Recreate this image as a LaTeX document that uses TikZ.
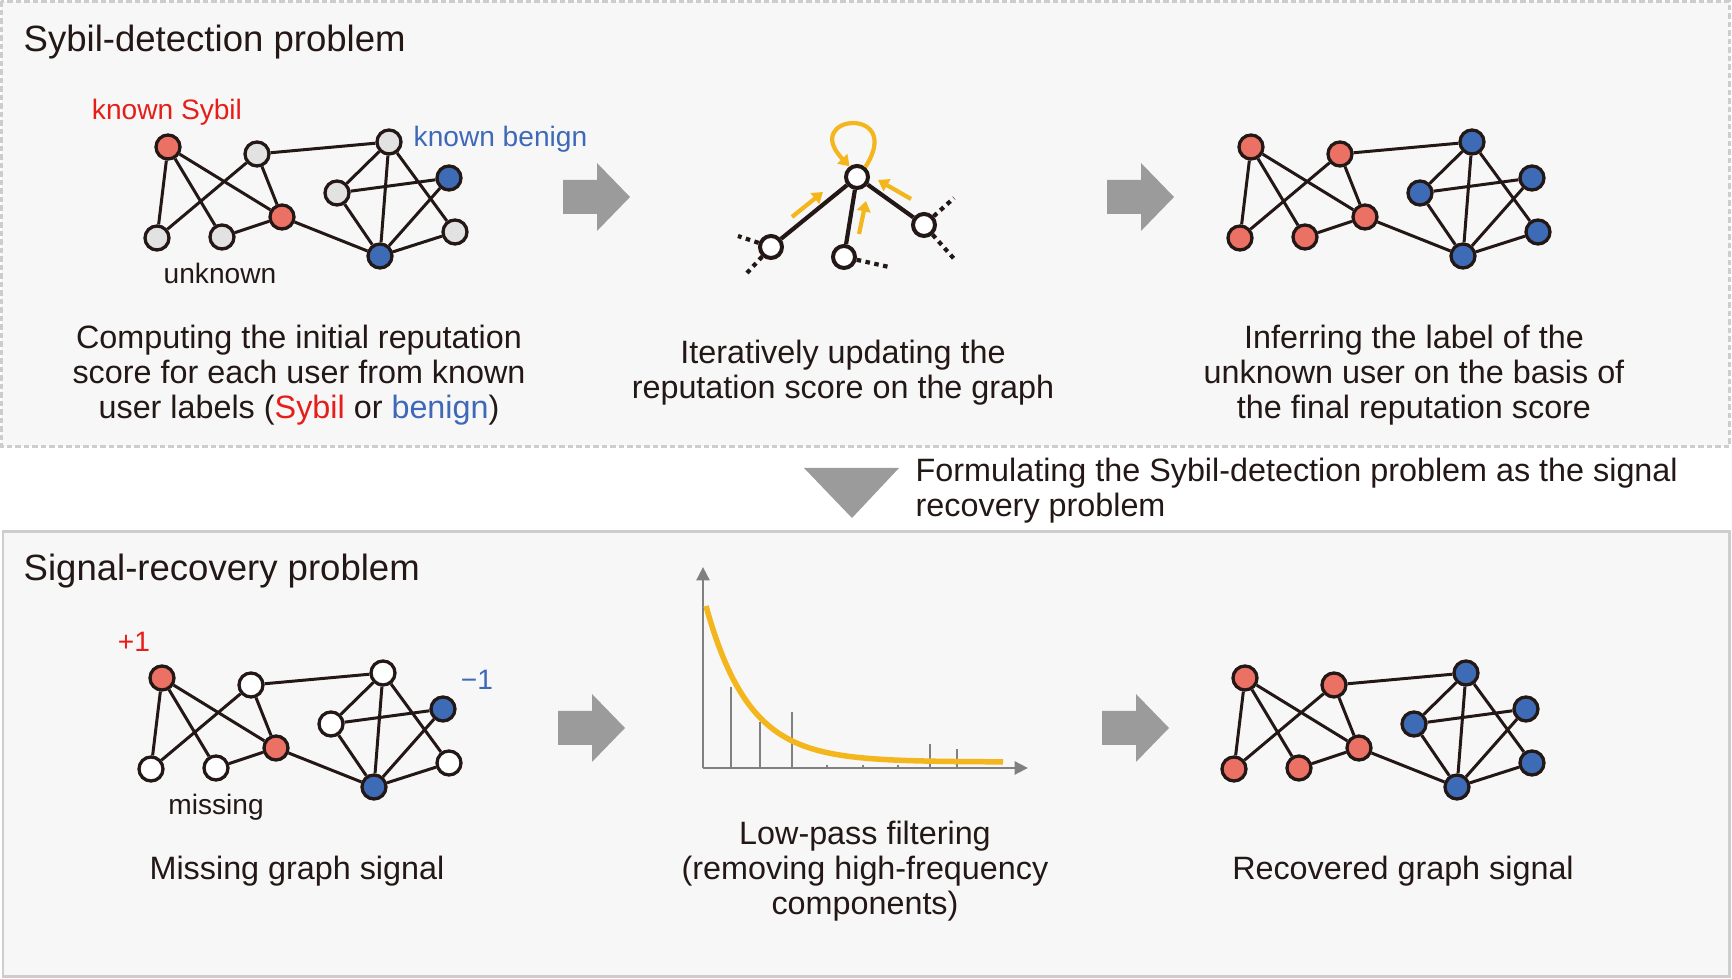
\documentclass[tikz,border=0pt]{standalone}
\usepackage{fontspec}
\setmainfont{Liberation Sans}
\usetikzlibrary{arrows.meta, calc}

\definecolor{ink}{RGB}{35,24,21}
\definecolor{sybilred}{RGB}{236,113,101}
\definecolor{benignblue}{RGB}{61,107,181}
\definecolor{labelred}{RGB}{230,30,25}
\definecolor{labelblue}{RGB}{62,104,184}
\definecolor{unknowngray}{RGB}{226,226,226}
\definecolor{panelbg}{RGB}{247,247,247}
\definecolor{framegray}{RGB}{205,205,205}
\definecolor{arrowgray}{RGB}{155,155,155}
\definecolor{axisgray}{RGB}{128,128,128}
\definecolor{amber}{RGB}{243,182,28}

% one user graph: #1 name prefix, #2 shift, #3 fill of left unknowns, #4 fill of right unknowns
\newcommand{\usernet}[4]{%
  \begin{scope}[shift={#2}]
    \node[user, fill=sybilred]   (#1sA) at (168,147) {};
    \node[user, fill=sybilred]   (#1sB) at (282,217) {};
    \node[user, fill=benignblue] (#1bA) at (449,178) {};
    \node[user, fill=benignblue] (#1bB) at (380,256) {};
    \node[user, fill=#3] (#1uA) at (257,154) {};
    \node[user, fill=#3] (#1uB) at (157,238) {};
    \node[user, fill=#3] (#1uC) at (222,237) {};
    \node[user, fill=#4] (#1uD) at (389,142) {};
    \node[user, fill=#4] (#1uE) at (337,193) {};
    \node[user, fill=#4] (#1uF) at (455,232) {};
    \draw[link] (#1sA) -- (#1uB) (#1sA) -- (#1uC) (#1sA) -- (#1sB)
      (#1uA) -- (#1uB) (#1uA) -- (#1sB) (#1uA) -- (#1uD)
      (#1sB) -- (#1uC) (#1sB) -- (#1bB)
      (#1uD) -- (#1uE) (#1uD) -- (#1bB) (#1uD) -- (#1uF)
      (#1uE) -- (#1bA) (#1uE) -- (#1bB)
      (#1bA) -- (#1bB) (#1bB) -- (#1uF);
  \end{scope}}

% gray step arrow, #1 = middle of its tail
\newcommand{\steparrow}[1]{%
  \fill[arrowgray] #1 ++(0,-17) -- ++(34,0) -- ++(0,-17) -- ++(33,34)
    -- ++(-33,34) -- ++(0,-17) -- ++(-34,0) -- cycle;}

\begin{document}
\begin{tikzpicture}[
    x=0.1mm, y=-0.1mm,
    user/.style={circle, draw=ink, line width=0.33mm, minimum size=2.4mm, inner sep=0pt},
    hub/.style={circle, draw=ink, fill=white, line width=0.4mm, minimum size=2.2mm, inner sep=0pt},
    link/.style={draw=ink, line width=0.3mm},
    spoke/.style={draw=ink, line width=0.42mm},
    stub/.style={draw=ink, line width=0.42mm, dash pattern=on 0.45mm off 0.45mm},
    flow/.style={draw=amber, line width=0.42mm, -{Triangle[length=1.05mm, width=1.35mm]}},
    bar/.style={draw=axisgray, line width=0.28mm},
    axis/.style={draw=axisgray, line width=0.28mm, -{Triangle[length=1.35mm, width=1.3mm]}},
    signal/.style={draw=amber, line width=0.55mm},
    title/.style={font=\fontsize{10.4}{12}\selectfont, text=ink, inner sep=0pt},
    caption/.style={font=\fontsize{9.2}{9.96}\selectfont, text=ink, align=center, inner sep=0pt},
    tag/.style={font=\fontsize{8}{9.6}\selectfont, inner sep=0pt},
]
\useasboundingbox (0,0) rectangle (1732,979);
\fill[white] (0,0) rectangle (1732,979);

% panels
\draw[framegray, fill=panelbg, line width=0.22mm, dash pattern=on 0.55mm off 0.3mm] (1.5,1.5) rectangle (1729.5,446.5);
\draw[framegray, fill=panelbg, line width=0.3mm] (3,532) rectangle (1729,977);

\node[title, anchor=base west] (sybiltitle) at (23,52) {Sybil-detection problem};
\node[title, anchor=base west] (signaltitle) at (23,581) {Signal-recovery problem};

% Sybil detection: known labels
\usernet{p}{(0,0)}{unknowngray}{unknowngray}
\node[tag, text=labelred, anchor=base] (sybiltag) at (167,120) {known Sybil};
\node[tag, text=labelblue, anchor=base west] (benigntag) at (413,147) {known benign};
\node[tag, text=ink, anchor=base] (unknowntag) at (220,284) {unknown};
\node[caption, anchor=north] (initcap) at (299,324)
    {Computing the initial reputation\\score for each user from known\\user labels (\textcolor{labelred}{Sybil} or \textcolor{labelblue}{benign})};

\steparrow{(563,197)}

% Sybil detection: propagation
\node[hub] (hc) at (857,177) {};
\node[hub] (hl) at (771,247) {};
\node[hub] (hb) at (844,257) {};
\node[hub] (hr) at (924,225) {};
\draw[spoke] (hc) -- (hl) (hc) -- (hb) (hc) -- (hr);
\coordinate (hl1) at (738,236);
\coordinate (hl2) at (747,273);
\coordinate (hb1) at (889,267);
\coordinate (hr1) at (954,198);
\coordinate (hr2) at (956,261);
\draw[stub] (hl) -- (hl1) (hl) -- (hl2) (hb) -- (hb1) (hr) -- (hr1) (hr) -- (hr2);
\draw[flow] (792,217) -- (823,192);
\draw[flow] (859,234) -- (866,201);
\draw[flow] (911,199) -- (878,180);
\draw[flow] (hc.50) .. controls +(40,-62) and +(-50,-52) .. (hc.125);
\node[caption, anchor=north] (itercap) at (843,339)
    {Iteratively updating the\\reputation score on the graph};

\steparrow{(1107,197)}

% Sybil detection: inferred labels
\usernet{q}{(1083,0)}{sybilred}{benignblue}
\node[caption, anchor=north] (infercap) at (1414,324)
    {Inferring the label of the\\unknown user on the basis of\\the final reputation score};

% formulation
\fill[arrowgray] (804,468) -- (899,468) -- (852,518) -- cycle;
\node[caption, align=left, anchor=north west] (formcap) at (915,457)
    {Formulating the Sybil-detection problem as the signal\\recovery problem};

% signal recovery: missing signal
\usernet{r}{(-6,531)}{white}{white}
\node[tag, text=labelred, anchor=base] (plustag) at (134,652) {+1};
\node[tag, text=labelblue, anchor=base] (minustag) at (477,690) {−1};
\node[tag, text=ink, anchor=base] (missingtag) at (216,815) {missing};
\node[caption, anchor=base] (missingcap) at (297,880) {Missing graph signal};

\steparrow{(558,728)}

% signal recovery: low-pass filter
\coordinate (origin) at (703,768);
\coordinate (ytop) at (703,567);
\coordinate (xend) at (1028,768);
\foreach \bx/\by in {731/687, 760/722, 792/712, 827/765, 863/765, 898/765, 930/744, 957/749}
  \draw[bar] (\bx,768) -- (\bx,\by);
\draw[axis] (origin) -- (ytop);
\draw[axis] (origin) -- (xend);
\draw[signal] plot[domain=0:297, samples=80, smooth] ({706+\x}, {762-156*exp(-\x/43)});
\node[caption, anchor=north] (lowcap) at (865,820)
    {Low-pass filtering\\(removing high-frequency\\components)};

\steparrow{(1102,728)}

% signal recovery: recovered signal
\usernet{s}{(1077,531)}{sybilred}{benignblue}
\node[caption, anchor=base] (recovcap) at (1403,880) {Recovered graph signal};

\end{tikzpicture}
\end{document}
